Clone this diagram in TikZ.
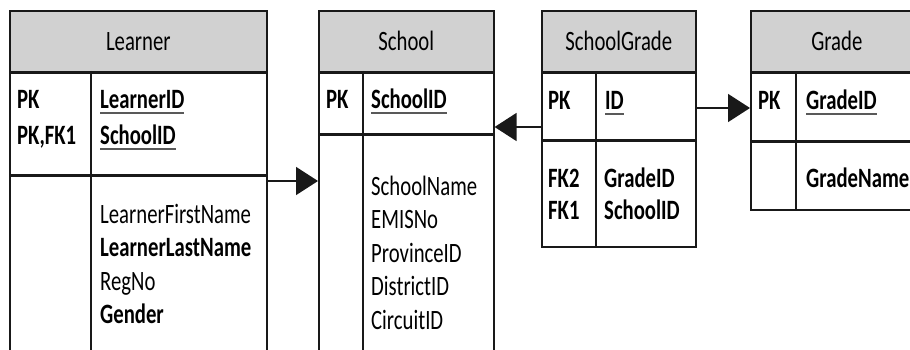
\documentclass[tikz,border=0pt]{standalone}
\usepackage{fontspec}
\setmainfont{Carlito}[FakeStretch=0.74]
\usetikzlibrary{arrows.meta}

\def\rowSkip{33.5}
\newlength\keyWidth
\newcommand{\keyfield}[1]{%
    \settowidth{\keyWidth}{\textbf{#1}}%
    \textbf{#1}\hspace{-\keyWidth}{\color{black!65}\rule[-5pt]{\keyWidth}{1.6pt}}}

\tikzset{
    tablebox/.style={draw=black!90, line width=1.6pt, anchor=north west, inner sep=0pt},
    headbox/.style={tablebox, fill=black!18},
    field/.style={anchor=base west, inner sep=0pt},
    relation/.style={line width=1.6pt, draw=black!90, -{Triangle[length=22pt,width=28pt]}}
}

\begin{document}
\begin{tikzpicture}[x=1pt, y=-1pt, font=\fontsize{28}{34}\selectfont]
            \clip (0,0) rectangle (910,350);

            % Learner
            \node [headbox, minimum width=257pt, minimum height=61pt] (learnerHead) at (9,10) {Learner};
            \node [tablebox, minimum width=257pt, minimum height=101pt] (learnerKeys) at (learnerHead.south west) {};
            \node [tablebox, minimum width=257pt, minimum height=200pt] (learnerAttrs) at (learnerKeys.south west) {};
            \draw [line width=1.6pt, draw=black!90] (91,71) -- (91,370);
            \node [field] (learnerPk) at (17,109) {\textbf{PK}};
            \node [field] (learnerFk) at (17,145) {\textbf{PK,FK1}};
            \node [field] (learnerId) at (100,109) {\keyfield{LearnerID}};
            \node [field] (learnerSchoolId) at (100,145) {\keyfield{SchoolID}};
            \foreach \name [count=\i] in {LearnerFirstName,\textbf{LearnerLastName},RegNo,\textbf{Gender}}{%
                    \node [field] (learnerAttr\i) at (100,223+\rowSkip*\i-\rowSkip) {\name};
                }

            % School
            \node [headbox, minimum width=175pt, minimum height=61pt] (schoolHead) at (318,10) {School};
            \node [tablebox, minimum width=175pt, minimum height=60pt] (schoolKeys) at (schoolHead.south west) {};
            \node [tablebox, minimum width=175pt, minimum height=240pt] (schoolAttrs) at (schoolKeys.south west) {};
            \draw [line width=1.6pt, draw=black!90] (363,71) -- (363,370);
            \node [field] (schoolPk) at (326,109) {\textbf{PK}};
            \node [field] (schoolId) at (371,109) {\keyfield{SchoolID}};
            \foreach \name [count=\i] in {SchoolName,EMISNo,ProvinceID,DistrictID,CircuitID}{%
                    \node [field] (schoolAttr\i) at (371,195+\rowSkip*\i-\rowSkip) {\name};
                }

            % SchoolGrade
            \node [headbox, minimum width=154pt, minimum height=61pt] (linkHead) at (541,10) {SchoolGrade};
            \node [tablebox, minimum width=154pt, minimum height=66pt] (linkKeys) at (linkHead.south west) {};
            \node [tablebox, minimum width=154pt, minimum height=106pt] (linkAttrs) at (linkKeys.south west) {};
            \draw [line width=1.6pt, draw=black!90] (linkHead.south west -| 596,0) -- (linkAttrs.south west -| 596,0);
            \node [field] (linkPk) at (548,110) {\textbf{PK}};
            \node [field] (linkId) at (605,110) {\keyfield{ID}};
            \node [field] (linkFkTwo) at (548,187) {\textbf{FK2}};
            \node [field] (linkFkOne) at (548,219) {\textbf{FK1}};
            \node [field] (linkGradeId) at (604,187) {\textbf{GradeID}};
            \node [field] (linkSchoolId) at (604,219) {\textbf{SchoolID}};

            % Grade
            \node [headbox, minimum width=172pt, minimum height=61pt] (gradeHead) at (750,10) {Grade};
            \node [tablebox, minimum width=172pt, minimum height=67pt] (gradeKeys) at (gradeHead.south west) {};
            \node [tablebox, minimum width=172pt, minimum height=68pt] (gradeAttrs) at (gradeKeys.south west) {};
            \draw [line width=1.6pt, draw=black!90] (gradeHead.south west -| 796,0) -- (gradeAttrs.south west -| 796,0);
            \node [field] (gradePk) at (758,110) {\textbf{PK}};
            \node [field] (gradeId) at (806,110) {\keyfield{GradeID}};
            \node [field] (gradeName) at (806,187) {\textbf{GradeName}};

            % relations
            \coordinate (learnerOut) at (266,181);
            \coordinate (linkOutSchool) at (541,127);
            \coordinate (linkOutGrade) at (695,108);
            \draw [relation] (learnerOut) -- (learnerOut -| schoolAttrs.west);
            \draw [relation] (linkOutSchool) -- (linkOutSchool -| schoolKeys.east);
            \draw [relation] (linkOutGrade) -- (linkOutGrade -| gradeKeys.west);
        \end{tikzpicture}
\end{document}
